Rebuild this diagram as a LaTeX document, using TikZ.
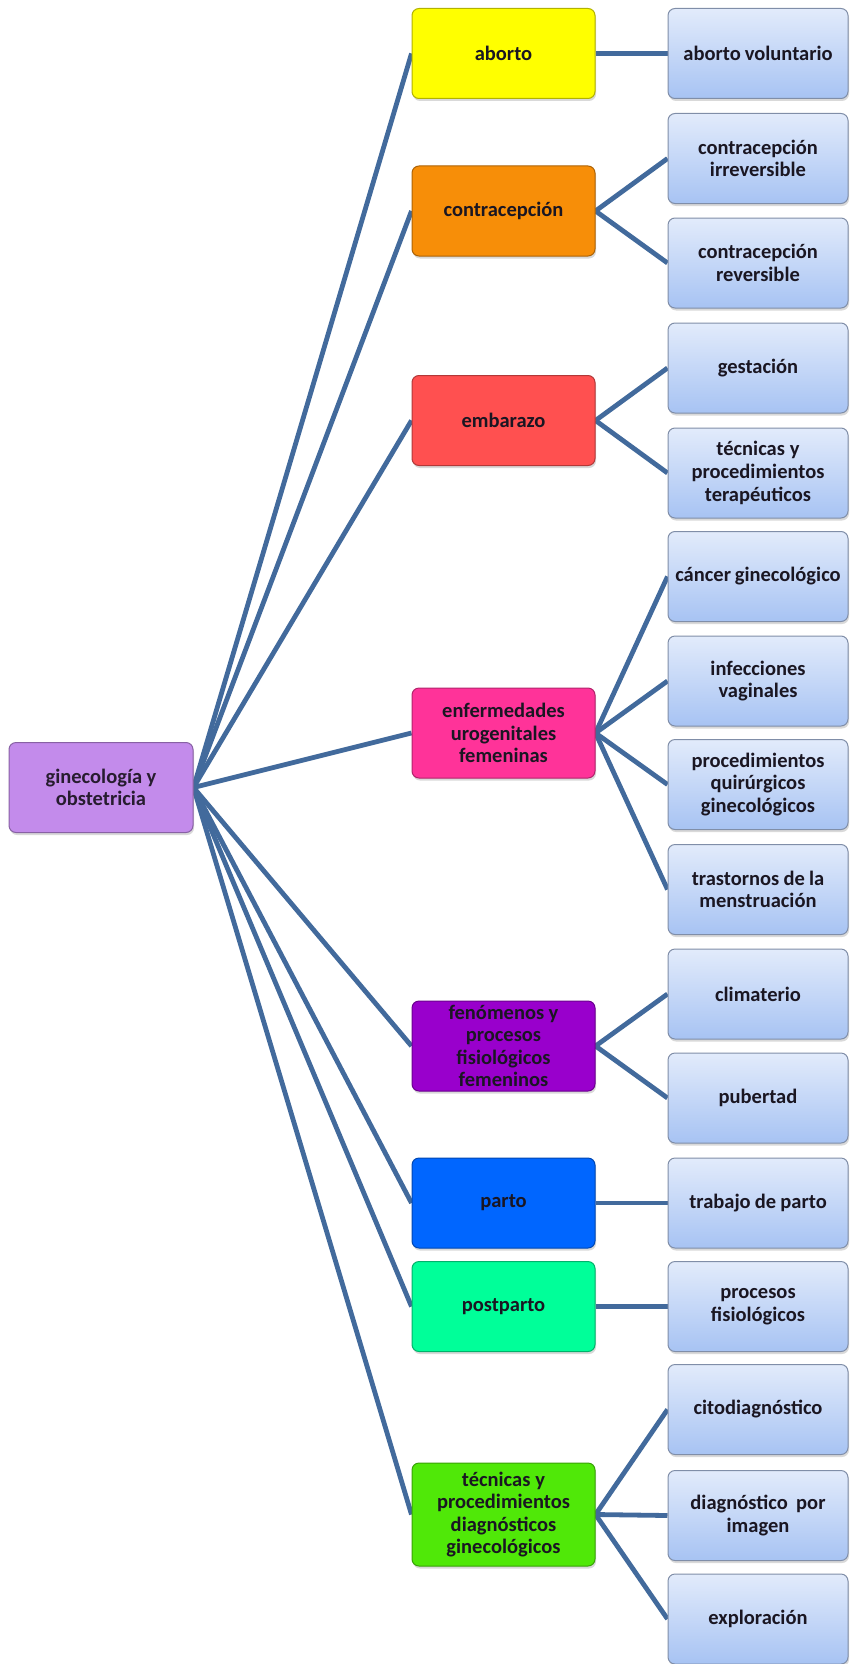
\documentclass[tikz,border=0pt]{standalone}
\usepackage{fontspec}
\setmainfont{Carlito}
\usetikzlibrary{shadows,backgrounds}

\definecolor{linkblue}{RGB}{66,106,156}
\definecolor{rootfill}{RGB}{195,139,235}
\definecolor{abortofill}{RGB}{255,255,0}
\definecolor{contrafill}{RGB}{247,142,8}
\definecolor{embfill}{RGB}{255,80,80}
\definecolor{enffill}{RGB}{255,51,153}
\definecolor{fenfill}{RGB}{153,0,204}
\definecolor{partofill}{RGB}{0,102,255}
\definecolor{postfill}{RGB}{0,255,153}
\definecolor{tecfill}{RGB}{80,232,8}
\definecolor{leaftop}{RGB}{226,235,251}
\definecolor{leafbot}{RGB}{167,195,243}
\definecolor{leafedge}{RGB}{128,142,168}
\definecolor{textdark}{RGB}{26,22,34}

\begin{document}
\begin{tikzpicture}[x=1pt,y=-1pt,
    box/.style={rounded corners=7pt, minimum width=183pt, minimum height=90pt,
        text width=178pt, align=center, inner sep=0pt, line width=1pt,
        text=textdark, font=\fontsize{20.5}{22.6}\selectfont\bfseries,
        execute at begin node={\spaceskip=0.18em plus 0.05em\relax},
        drop shadow={shadow xshift=1pt, shadow yshift=-2.5pt, opacity=0.3}},
    mid/.style={box, fill=#1, draw=#1!70!black},
    leaf/.style={box, minimum width=180pt, text width=176pt, draw=leafedge,
        top color=leaftop, bottom color=leafbot},
    link/.style={line width=4.8pt, draw=linkblue}]

    \useasboundingbox (0,0) rectangle (849,1664);

    % Root
    \node[mid=rootfill, minimum width=184pt, text=rootfill!20!black] (gine) at (101,787.5) {ginecología y\\obstetricia};

    % Second level
    \node[mid=abortofill] (aborto) at (503.5,53.5) {aborto};
    \node[mid=contrafill] (contra) at (503.5,211) {contracepción};
    \node[mid=embfill] (embarazo) at (503.5,420.5) {embarazo};
    \node[mid=enffill] (enferm) at (503.5,733) {enfermedades\\urogenitales\\femeninas};
    \node[mid=fenfill] (fenom) at (503.5,1046) {fenómenos y\\procesos\\fisiológicos\\femeninos};
    \node[mid=partofill] (parto) at (503.5,1203) {parto};
    \node[mid=postfill] (postparto) at (503.5,1306.5) {postparto};
    \node[mid=tecfill, minimum height=103pt] (tecdiag) at (503.5,1514.5) {técnicas y\\procedimientos\\diagnósticos\\ginecológicos};

    % Third level
    \node[leaf] (abvol) at (758,53.5) {aborto voluntario};
    \node[leaf] (cirrev) at (758,158.5) {contracepción\\irreversible};
    \node[leaf] (crev) at (758,263) {contracepción\\reversible};
    \node[leaf] (gest) at (758,368) {gestación};
    \node[leaf] (tecter) at (758,473) {técnicas y\\procedimientos\\terapéuticos};
    \node[leaf] (cancer) at (758,576.5) {cáncer ginecológico};
    \node[leaf] (infec) at (758,681) {infecciones\\vaginales};
    \node[leaf] (procq) at (758,784.5) {procedimientos\\quirúrgicos\\ginecológicos};
    \node[leaf] (trast) at (758,889.5) {trastornos de la\\menstruación};
    \node[leaf] (clim) at (758,994) {climaterio};
    \node[leaf] (pub) at (758,1098) {pubertad};
    \node[leaf] (trab) at (758,1203) {trabajo de parto};
    \node[leaf] (procf) at (758,1306.5) {procesos\\fisiológicos};
    \node[leaf] (cito) at (758,1409.5) {citodiagnóstico};
    \node[leaf] (diagimg) at (758,1515.5) {diagnóstico\ \ por\\imagen};
    \node[leaf] (explo) at (758,1619) {exploración};

    % Connectors
    \begin{scope}[on background layer]
        \foreach \m in {aborto,contra,embarazo,enferm,fenom,parto,postparto,tecdiag}
            \draw[link] (gine.east) -- (\m.west);
        \foreach \m/\l in {aborto/abvol, contra/cirrev, contra/crev,
                embarazo/gest, embarazo/tecter,
                enferm/cancer, enferm/infec, enferm/procq, enferm/trast,
                fenom/clim, fenom/pub, parto/trab, postparto/procf,
                tecdiag/cito, tecdiag/diagimg, tecdiag/explo}
            \draw[link] (\m.east) -- (\l.west);
    \end{scope}
\end{tikzpicture}
\end{document}
